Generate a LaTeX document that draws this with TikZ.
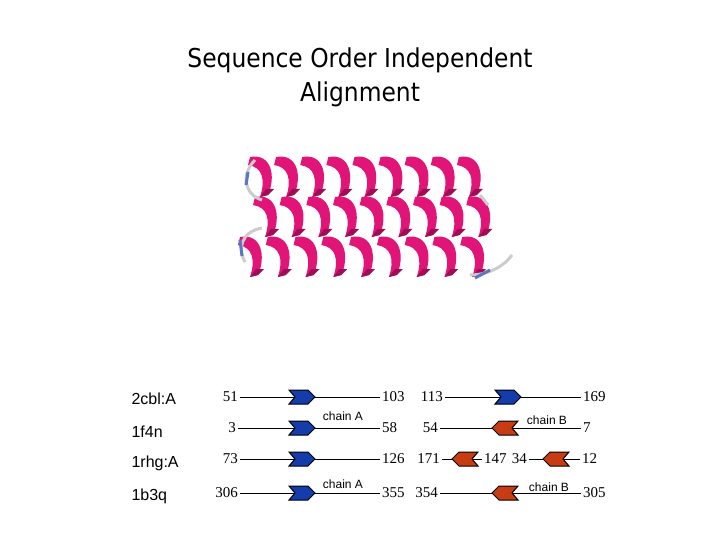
\documentclass[tikz,border=0pt]{standalone}
\usepackage{fontspec}
\setmainfont{Liberation Serif}
\newfontfamily\ssf{Liberation Sans}
\newfontfamily\tsf{DejaVu Sans}
\definecolor{pinkh}{RGB}{225,20,120}
\definecolor{blu}{RGB}{20,60,170}
\definecolor{org}{RGB}{200,60,20}
\begin{document}
\begin{tikzpicture}[x=1pt,y=-1pt,
  num/.style={font=\fontsize{15}{16}\selectfont,inner sep=2pt},
  lab/.style={font=\ssf\fontsize{16}{18}\selectfont,anchor=west},
  ch/.style={font=\ssf\fontsize{12}{12}\selectfont},
  ln/.style={line width=0.7pt},
  fw/.pic={\fill[blu,draw=black,line width=1pt] (-13,-7)--(6,-7)--(13,0)--(6,7)--(-13,7)--(-7,0)--cycle;},
  bw/.pic={\fill[org,draw=black,line width=1pt] (13,-7)--(-6,-7)--(-13,0)--(-6,7)--(13,7)--(7,0)--cycle;}]
\useasboundingbox (0,0) rectangle (720,540);
\node[font=\tsf\fontsize{26}{34}\selectfont\addfontfeature{FakeStretch=0.9},align=center] (t) at (360,77) {Sequence Order Independent\\Alignment};
% protein
\foreach \yy/\xa/\xb in {175/250/485,215/255/495,255/240/490}{
 \foreach \k in {0,...,8}{
  \pgfmathsetmacro\xx{\xa+\k*(\xb-\xa)/9}
  \fill[pinkh] (\xx,\yy-18) .. controls (\xx+22,\yy-22) and (\xx+26,\yy+2) .. (\xx+18,\yy+20)
     -- (\xx+10,\yy+22) .. controls (\xx+16,\yy+4) and (\xx+12,\yy-8) .. (\xx-2,\yy-10) -- cycle;
  \fill[pinkh!70!black] (\xx+10,\yy+22) -- (\xx+18,\yy+20) -- (\xx+24,\yy+14) -- (\xx+16,\yy+14) -- cycle;
 }}
\draw[line width=3pt,gray!40] (255,160) .. controls (240,175) and (245,195) .. (262,200);
\draw[line width=3pt,blu!70] (248,172) -- (246,185);
\draw[line width=3pt,gray!40] (262,228) .. controls (240,232) and (238,250) .. (245,262);
\draw[line width=3pt,blu!70] (240,240) -- (242,256);
\draw[line width=3pt,gray!40] (480,195) -- (488,205);
\draw[line width=3pt,gray!40] (470,275) .. controls (490,275) and (505,265) .. (512,255);
\draw[line width=3pt,blu!70] (475,278) -- (490,270);
% labels
\node[lab] (l1) at (128,399) {2cbl:A};
\node[lab] (l2) at (128,432) {1f4n};
\node[lab] (l3) at (128,463) {1rhg:A};
\node[lab] (l4) at (128,496) {1b3q};
% row 1
\node[num,anchor=east] (a1) at (240,397) {51};
\node[num,anchor=west] (b1) at (380,397) {103};
\node[num,anchor=east] (c1) at (445,397) {113};
\node[num,anchor=west] (d1) at (581,397) {169};
\draw[ln] (a1) -- (b1); \draw[ln] (c1) -- (d1);
\pic at (302,397) {fw}; \pic at (508,397) {fw};
% row 2
\node[num,anchor=east] (a2) at (238,428) {3};
\node[num,anchor=west] (b2) at (380,428) {58};
\node[num,anchor=east] (c2) at (440,428) {54};
\node[num,anchor=west] (d2) at (581,428) {7};
\draw[ln] (a2) -- (b2); \draw[ln] (c2) -- (d2);
\pic at (302,428) {fw}; \pic at (505,428) {bw};
\node[ch] (ca1) at (343,416) {chain A};
\node[ch] (cb1) at (547,420) {chain B};
% row 3
\node[num,anchor=east] (a3) at (240,459) {73};
\node[num,anchor=west] (b3) at (380,459) {126};
\node[num,anchor=east] (c3) at (442,459) {171};
\node[num,anchor=west] (d3) at (482,459) {147};
\node[num,anchor=east] (e3) at (529,459) {34};
\node[num,anchor=west] (f3) at (580,459) {12};
\draw[ln] (a3) -- (b3); \draw[ln] (c3) -- (d3); \draw[ln] (e3) -- (f3);
\pic at (302,459) {fw}; \pic at (465,459) {bw}; \pic at (556,459) {bw};
% row 4
\node[num,anchor=east] (a4) at (240,493) {306};
\node[num,anchor=west] (b4) at (380,493) {355};
\node[num,anchor=east] (c4) at (440,493) {354};
\node[num,anchor=west] (d4) at (581,493) {305};
\draw[ln] (a4) -- (b4); \draw[ln] (c4) -- (d4);
\pic at (302,493) {fw}; \pic at (505,493) {bw};
\node[ch] (ca2) at (343,484) {chain A};
\node[ch] (cb2) at (549,487) {chain B};
\end{tikzpicture}
\end{document}
